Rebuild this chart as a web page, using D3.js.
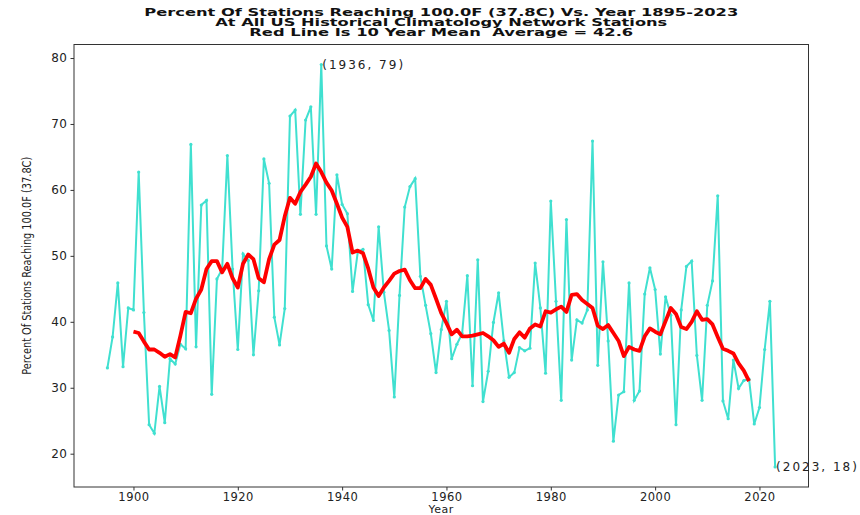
<!DOCTYPE html>
<html>
<head>
<meta charset="utf-8">
<script src="https://cdn.jsdelivr.net/npm/d3@7"></script>
<style>
  body { margin: 0; background: #fff; }
  text { font-family: "DejaVu Sans", sans-serif; }
</style>
</head>
<body>
<div id="container"></div>
<script>
/* CONSTANTS AND GLOBALS */
const width = 860,
  height = 515,
  margin = { top: 44.5, right: 51.5, bottom: 28, left: 74 };

/* DATA */
const firstYear = 1895, lastYear = 2023;
const pctStations = [
  33.0, 37.7, 45.9, 33.2, 42.1, 41.8, 62.7, 41.4, 24.4, 23.1, // 1895-1904
  30.2, 24.7, 34.4, 33.6, 36.6, 35.9, 66.9, 36.2, 57.7, 58.4, // 1905-1914
  29.0, 46.5, 48.0, 65.2, 48.0, 35.8, 50.3, 49.3, 35.0, 44.7, // 1915-1924
  64.7, 61.0, 40.7, 36.5, 42.0, 71.2, 72.1, 56.3, 70.6, 72.6, // 1925-1934
  56.3, 79.0, 51.5, 48.0, 62.3, 57.8, 56.4, 44.6, 50.6, 51.0, // 1935-1944
  42.6, 40.2, 54.4, 44.5, 38.7, 28.6, 44.0, 57.4, 60.5, 61.7, // 1945-1954
  46.9, 42.5, 38.2, 32.3, 38.8, 43.1, 34.4, 36.6, 38.2, 47.0, // 1955-1964
  30.3, 49.4, 27.9, 32.5, 39.9, 44.4, 37.1, 31.6, 32.3, 36.1, // 1965-1974
  35.6, 36.0, 48.9, 42.1, 32.2, 58.3, 43.1, 28.1, 55.5, 34.2, // 1975-1984
  40.3, 39.8, 41.8, 67.4, 33.4, 49.1, 37.1, 21.9, 28.9, 29.4, // 1985-1994
  45.9, 28.1, 29.5, 44.2, 48.2, 44.9, 35.1, 43.8, 41.0, 24.4, // 1995-2004
  41.8, 48.4, 49.2, 34.9, 28.1, 42.5, 46.2, 59.1, 28.0, 25.3, // 2005-2014
  34.2, 29.9, 31.1, 31.3, 24.5, 27.0, 35.8, 43.1, 18.0        // 2015-2023
];

// red 10 year mean line, 1900-2018
const meanFirstYear = 1900, meanLastYear = 2018;
const tenYearMean = [
  38.5, 38.3, 37.0, 35.8, 35.8, 35.3, 34.7, 35.1, 34.6, 37.9, // 1900-1909
  41.5, 41.3, 43.5, 44.9, 48.0, 49.2, 49.2, 47.5, 48.8, 46.6, // 1910-1919
  45.2, 48.8, 50.2, 49.5, 46.6, 46.0, 49.5, 51.7, 52.4, 56.0, // 1920-1929
  58.8, 57.9, 59.7, 60.8, 62.0, 64.0, 62.7, 61.1, 59.9, 57.9, // 1930-1939
  55.8, 54.4, 50.5, 50.8, 50.4, 48.1, 45.2, 43.9, 45.2, 46.2, // 1940-1949
  47.3, 47.7, 47.9, 46.3, 45.1, 45.1, 46.5, 45.6, 43.5, 41.3, // 1950-1959
  39.8, 38.1, 38.8, 37.8, 37.8, 37.9, 38.1, 38.3, 37.8, 37.2, // 1960-1969
  36.2, 36.7, 35.3, 37.4, 38.4, 37.6, 39.0, 39.6, 39.3, 41.6, // 1970-1979
  41.4, 41.9, 42.3, 41.5, 44.1, 44.2, 43.3, 42.7, 42.1, 39.4, // 1980-1989
  38.9, 39.5, 38.3, 37.1, 34.8, 36.2, 35.8, 35.6, 37.8, 39.0, // 1990-1999
  38.5, 38.1, 40.1, 42.1, 41.2, 39.2, 38.9, 40.0, 41.6, 40.3, // 2000-2009
  40.4, 39.6, 37.7, 35.9, 35.6, 35.2, 33.7, 32.6, 31.0        // 2010-2018
];

const xTicks = [1900, 1920, 1940, 1960, 1980, 2000, 2020];
const yTicks = [20, 30, 40, 50, 60, 70, 80];
const titleLines = [
  "Percent Of Stations Reaching 100.0F (37.8C) Vs. Year 1895-2023",
  "At All US Historical Climatology Network Stations",
  "Red Line Is 10 Year Mean  Average = 42.6"
];
const titleWidths = [594, 452, 384]; // the title is drawn wide in the original
const peakNote = [1936, 79];
const lastNote = [2023, 18];

const years = d3.range(firstYear, lastYear + 1);
const meanYears = d3.range(meanFirstYear, meanLastYear + 1);
const data = years.map((y, i) => ({ year: y, value: pctStations[i] }));
const meanData = meanYears.map((y, i) => ({ year: y, value: tenYearMean[i] }));

/* SVG */
const svg = d3.select("#container")
  .append("svg")
  .attr("width", width)
  .attr("height", height)
  .style("display", "block")

/* SCALES */
const xScale = d3.scaleLinear()
  .domain([1888.6, 2029.4])
  .range([margin.left, width - margin.right])

const yScale = d3.scaleLinear()
  .domain([14.95, 82.05])
  .range([height - margin.bottom, margin.top])

/* AXES */
const xAxis = svg.append("g")
  .attr("class", "x-axis")
  .attr("transform", `translate(0, ${height - margin.bottom})`)
  .call(d3.axisBottom(xScale).tickValues(xTicks).tickFormat(d3.format("d")).tickSize(3.5).tickPadding(2.5))
xAxis.select(".domain").remove()
xAxis.selectAll("line").attr("stroke", "#333")
xAxis.selectAll("text")
  .style("font-size", "11.5px")
  .style("letter-spacing", "0.5px")
  .attr("fill", "#222")

const yAxis = svg.append("g")
  .attr("class", "y-axis")
  .attr("transform", `translate(${margin.left}, 0)`)
  .call(d3.axisLeft(yScale).tickValues(yTicks).tickSize(3.5).tickPadding(3))
yAxis.select(".domain").remove()
yAxis.selectAll("line").attr("stroke", "#333")
yAxis.selectAll("text")
  .style("font-size", "12px")
  .style("letter-spacing", "0.5px")
  .attr("fill", "#222")

// frame
svg.append("rect")
  .attr("x", margin.left)
  .attr("y", margin.top)
  .attr("width", width - margin.left - margin.right)
  .attr("height", height - margin.top - margin.bottom)
  .attr("fill", "none")
  .attr("stroke", "#333")
  .attr("stroke-width", 1)

/* LINES */
const line = d3.line()
  .x(d => xScale(d.year))
  .y(d => yScale(d.value))

svg.append("path")
  .datum(data)
  .attr("fill", "none")
  .attr("stroke", "turquoise")
  .attr("stroke-width", 2)
  .attr("d", line)

svg.selectAll(".dot")
  .data(data)
  .join("circle")
  .attr("class", "dot")
  .attr("cx", d => xScale(d.year))
  .attr("cy", d => yScale(d.value))
  .attr("r", 1.6)
  .attr("fill", "turquoise")

svg.append("path")
  .datum(meanData)
  .attr("fill", "none")
  .attr("stroke", "red")
  .attr("stroke-width", 3.8)
  .attr("stroke-linejoin", "round")
  .attr("d", line)

/* ANNOTATIONS */
svg.selectAll(".note")
  .data([peakNote, lastNote])
  .join("text")
  .attr("class", "note")
  .attr("x", d => xScale(d[0]) + 1)
  .attr("y", d => yScale(d[1]))
  .attr("dy", "0.35em")
  .style("font-size", "12px")
  .style("letter-spacing", "2px")
  .attr("fill", "#222")
  .text(d => `(${d[0]}, ${d[1]})`)

/* TITLES */
svg.selectAll(".title")
  .data(titleLines)
  .join("text")
  .attr("class", "title")
  .attr("x", (margin.left + width - margin.right) / 2)
  .attr("y", (d, i) => 15.5 + i * 10)
  .attr("text-anchor", "middle")
  .attr("textLength", (d, i) => titleWidths[i])
  .attr("lengthAdjust", "spacingAndGlyphs")
  .style("white-space", "pre")
  .style("font-size", "10px")
  .style("font-weight", "bold")
  .attr("fill", "#111")
  .text(d => d)

svg.append("text")
  .attr("x", (margin.left + width - margin.right) / 2)
  .attr("y", 513)
  .attr("text-anchor", "middle")
  .style("font-size", "11px")
  .style("letter-spacing", "0.5px")
  .attr("fill", "#222")
  .text("Year")

svg.append("text")
  .attr("transform", `translate(31, ${(margin.top + height - margin.bottom) / 2}) rotate(-90)`)
  .attr("text-anchor", "middle")
  .attr("textLength", 218)
  .attr("lengthAdjust", "spacingAndGlyphs")
  .style("font-size", "12.5px")
  .attr("fill", "#222")
  .text("Percent Of Stations Reaching 100.0F (37.8C)")
</script>
</body>
</html>
